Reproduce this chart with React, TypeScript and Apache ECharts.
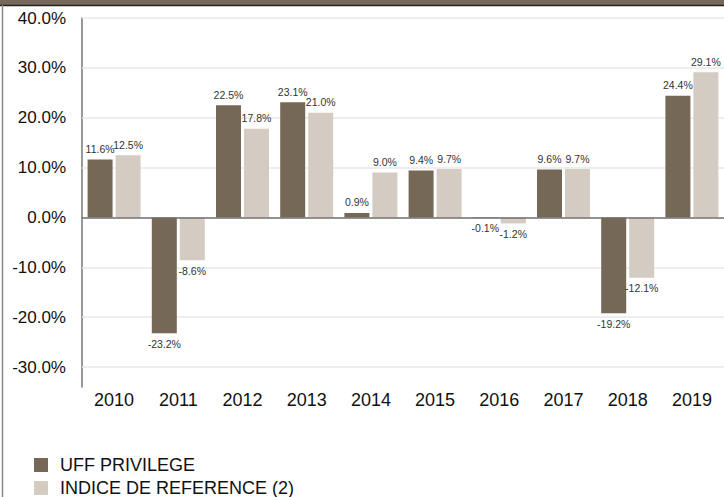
import React, { useEffect, useRef } from "react";
import * as echarts from "echarts";

const categories = ["2010", "2011", "2012", "2013", "2014", "2015", "2016", "2017", "2018", "2019"];
const uffValues = [11.6, -23.2, 22.5, 23.1, 0.9, 9.4, -0.1, 9.6, -19.2, 24.4];
const indexValues = [12.5, -8.6, 17.8, 21.0, 9.0, 9.7, -1.2, 9.7, -12.1, 29.1];
const seriesNames = ["UFF PRIVILEGE", "INDICE DE REFERENCE (2)"];
const yTicks = [-30, -20, -10, 0, 10, 20, 30, 40];
const gridValues = [-30, -20, -10, 10, 20, 30, 40];

const BROWN = "#756856";
const LIGHT = "#D4CBC2";
const FONT = "Liberation Sans, Arial, sans-serif";

function toData(values: number[]) {
  return values.map((v) => ({
    value: v,
    label: { position: v < 0 ? "bottom" : "top" },
  }));
}

export default function App() {
  const ref = useRef<HTMLDivElement>(null);
  useEffect(() => {
    if (!ref.current) return;
    const chart = echarts.init(ref.current, undefined, { renderer: "svg" });
    const label = {
      show: true,
      distance: 5,
      fontSize: 10.5,
      color: "#333",
      fontFamily: FONT,
      formatter: (p: any) => p.value.toFixed(1) + "%",
    };
    const legendBase = {
      orient: "vertical",
      left: 29,
      itemWidth: 14,
      itemHeight: 14,
      icon: "rect",
      textStyle: { fontSize: 18, color: "#111", fontFamily: FONT, padding: [0, 0, 0, 7] },
    };
    chart.setOption({
      animation: false,
      backgroundColor: "#fff",
      grid: { left: 82, right: 0, top: 18, bottom: 110, containLabel: false },
      legend: [
        { ...legendBase, top: 451, data: [seriesNames[0]] },
        { ...legendBase, top: 474, data: [seriesNames[1]] },
      ],
      xAxis: {
        type: "category",
        data: categories,
        axisLine: { show: false },
        axisTick: { show: false },
        axisLabel: { fontSize: 18, color: "#111", fontFamily: FONT, margin: 4 },
      },
      yAxis: {
        type: "value",
        min: -34,
        max: 40,
        splitLine: { show: false },
        axisTick: { show: false },
        axisLine: { show: true, lineStyle: { color: "#777", width: 1.5 } },
        axisLabel: {
          customValues: yTicks,
          fontSize: 17,
          color: "#111",
          fontFamily: FONT,
          margin: 16,
          formatter: (v: number) => v.toFixed(1) + "%",
        },
      },
      graphic: [
        { type: "rect", shape: { x: 0, y: 0, width: 724, height: 5 }, style: { fill: "#76695A" }, z: 10 },
        { type: "line", shape: { x1: 0, y1: 5.5, x2: 724, y2: 5.5 }, style: { stroke: "#222", lineWidth: 1.5 }, z: 10 },
        { type: "line", shape: { x1: 2.5, y1: 5, x2: 2.5, y2: 497 }, style: { stroke: "#888", lineWidth: 1.5 }, z: 10 },
      ],
      series: [
        {
          name: seriesNames[0],
          type: "bar",
          data: toData(uffValues),
          barWidth: 25,
          barGap: "12%",
          itemStyle: { color: BROWN },
          label,
          z: 2,
          markLine: {
            silent: true,
            symbol: "none",
            z: 1,
            label: { show: false },
            lineStyle: { color: "#e8e8e8", width: 1.5, type: "solid" },
            emphasis: { disabled: true },
            data: gridValues.map((v) => ({ yAxis: v })),
          },
        },
        {
          name: seriesNames[1],
          type: "bar",
          data: toData(indexValues),
          barWidth: 25,
          barGap: "12%",
          itemStyle: { color: LIGHT },
          label,
          z: 2,
          markLine: {
            silent: true,
            symbol: "none",
            z: 5,
            label: { show: false },
            lineStyle: { color: "#6e6e6e", width: 1.5, type: "solid" },
            emphasis: { disabled: true },
            data: [{ yAxis: 0 }],
          },
        },
      ],
    });
    return () => chart.dispose();
  }, []);
  return (
    <div
      ref={ref}
      style={{ position: "absolute", left: 0, top: 0, width: 724, height: 497 }}
    />
  );
}
